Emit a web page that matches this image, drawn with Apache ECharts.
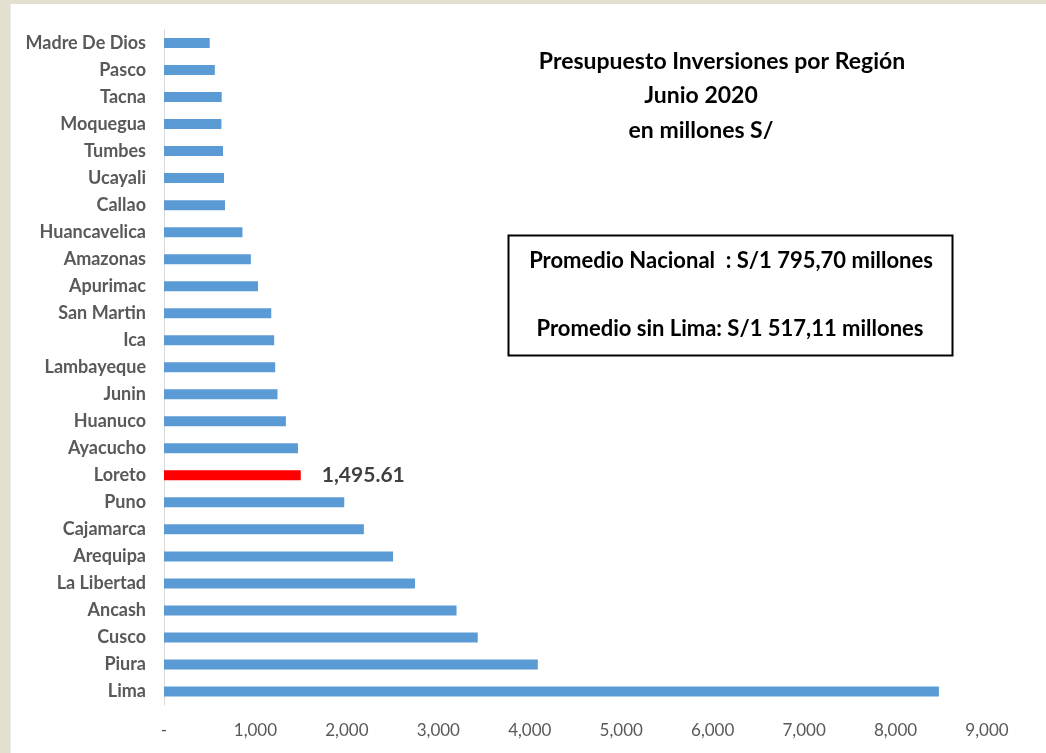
<!DOCTYPE html>
<html>
<head>
<meta charset="utf-8">
<script src="https://cdn.jsdelivr.net/npm/echarts@6/dist/echarts.min.js"></script>
<style>
  html, body { margin: 0; padding: 0; background: #ffffff; }
  #chart { width: 1046px; height: 753px; }
</style>
</head>
<body>
<div id="chart"></div>
<script>
// regiones, de arriba hacia abajo
const regions = [
  'Madre De Dios', 'Pasco', 'Tacna', 'Moquegua', 'Tumbes', 'Ucayali', 'Callao',
  'Huancavelica', 'Amazonas', 'Apurimac', 'San Martin', 'Ica', 'Lambayeque',
  'Junin', 'Huanuco', 'Ayacucho', 'Loreto', 'Puno', 'Cajamarca', 'Arequipa',
  'La Libertad', 'Ancash', 'Cusco', 'Piura', 'Lima'
]
// presupuesto en millones S/
const budget = [
  500, 556, 631, 628, 645, 656, 667,
  858, 950, 1028, 1173, 1205, 1216,
  1241, 1333, 1465, 1495.61, 1971, 2186, 2505,
  2745, 3199, 3431, 4088, 8474
]
const highlight = 'Loreto'
const xTicks = [0, 1000, 2000, 3000, 4000, 5000, 6000, 7000, 8000, 9000]

const titleLines = ['Presupuesto Inversiones por Región', 'Junio 2020', 'en millones S/']
const boxLines = ['Promedio Nacional  : S/1 795,70 millones', 'Promedio sin Lima: S/1 517,11 millones']

const FONT = 'Lato, "Open Sans", sans-serif'

const chart = echarts.init(document.getElementById('chart'))

const barData = regions.map((r, i) => {
  if (r !== highlight) return budget[i]
  return {
    value: budget[i],
    itemStyle: { color: '#ff0000' },
    label: {
      show: true,
      position: 'right',
      distance: 21,
      formatter: (p) => p.value.toLocaleString('en-US', { minimumFractionDigits: 2 }),
      fontFamily: FONT,
      fontSize: 21,
      fontWeight: 'bold',
      color: '#404040'
    }
  }
})

chart.setOption({
  backgroundColor: '#ffffff',
  animation: false,
  grid: {
    left: 164,
    right: 59,
    top: 29.5,
    bottom: 48
  },
  xAxis: {
    type: 'value',
    min: xTicks[0],
    max: xTicks[xTicks.length - 1],
    interval: 1000,
    axisLine: { show: false },
    axisTick: { show: false },
    splitLine: { show: false },
    axisLabel: {
      margin: 17,
      color: '#595959',
      fontFamily: FONT,
      fontSize: 17,
      formatter: (v) => (v === 0 ? '-' : v.toLocaleString('en-US'))
    }
  },
  yAxis: {
    type: 'category',
    inverse: true,
    data: regions,
    axisLine: { show: true, lineStyle: { color: '#d9d9d9', width: 1 } },
    axisTick: { show: false },
    axisLabel: {
      margin: 18,
      color: '#595959',
      fontFamily: FONT,
      fontSize: 18,
      fontWeight: 'bold'
    }
  },
  series: [
    {
      type: 'bar',
      barWidth: 10,
      itemStyle: { color: '#5b9bd5' },
      data: barData
    }
  ],
  graphic: [
    // marco gris del recorte
    { type: 'rect', shape: { x: 0, y: 0, width: 10, height: 753 }, style: { fill: '#e3e0d0' }, silent: true },
    { type: 'rect', shape: { x: 0, y: 0, width: 1046, height: 4 }, style: { fill: '#e3e0d0' }, silent: true },
    { type: 'rect', shape: { x: 10, y: 4, width: 1, height: 749 }, style: { fill: '#ececec' }, silent: true },
    // titulo
    { type: 'text', x: 722, y: 62, style: { text: titleLines[0], font: 'bold 23px ' + FONT, fill: '#000', align: 'center', verticalAlign: 'middle' } },
    { type: 'text', x: 701, y: 96, style: { text: titleLines[1], font: 'bold 23px ' + FONT, fill: '#000', align: 'center', verticalAlign: 'middle' } },
    { type: 'text', x: 701, y: 131, style: { text: titleLines[2], font: 'bold 23px ' + FONT, fill: '#000', align: 'center', verticalAlign: 'middle' } },
    // recuadro de promedios
    { type: 'rect', shape: { x: 508.5, y: 235.5, width: 444, height: 120 }, style: { fill: '#fff', stroke: '#000', lineWidth: 2 } },
    { type: 'text', x: 731, y: 261, style: { text: boxLines[0], font: 'bold 22px ' + FONT, fill: '#000', align: 'center', verticalAlign: 'middle' } },
    { type: 'text', x: 730, y: 329, style: { text: boxLines[1], font: 'bold 22px ' + FONT, fill: '#000', align: 'center', verticalAlign: 'middle' } }
  ]
})
</script>
</body>
</html>
